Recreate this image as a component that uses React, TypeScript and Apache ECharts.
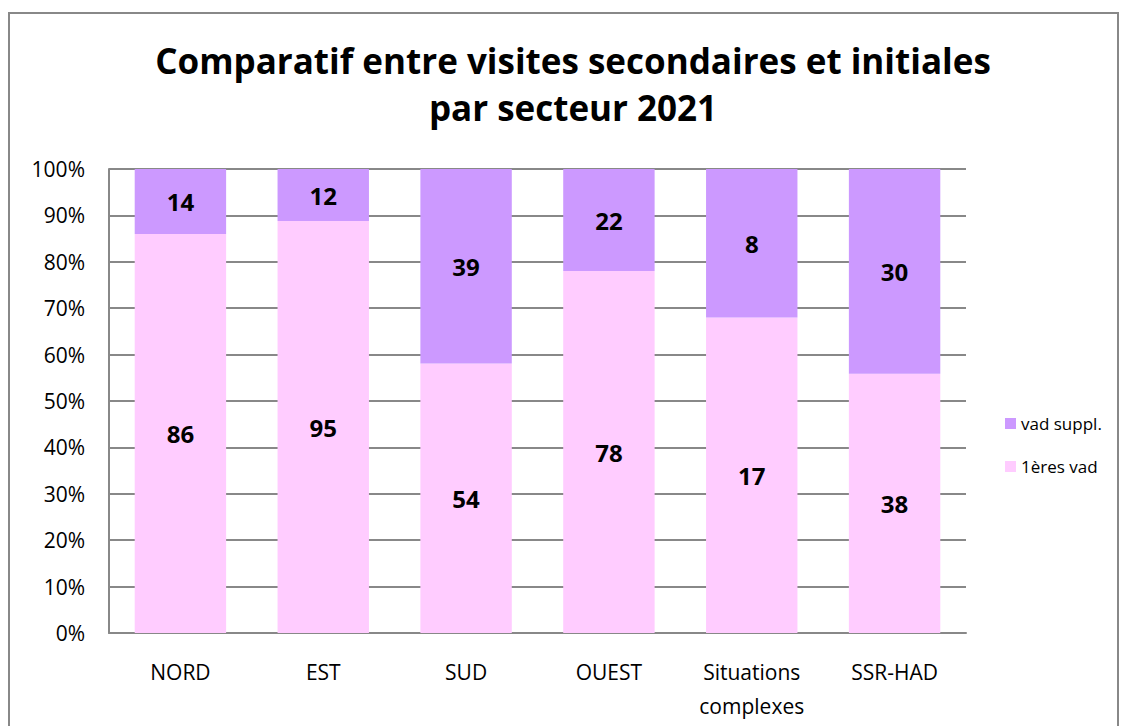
import React, { useEffect, useRef } from "react";
import * as echarts from "echarts";

const categories = ["NORD", "EST", "SUD", "OUEST", "Situations\ncomplexes", "SSR-HAD"];
const premieres = [86, 95, 54, 78, 17, 38];
const supplementaires = [14, 12, 39, 22, 8, 30];
const yTicks = [0, 10, 20, 30, 40, 50, 60, 70, 80, 90, 100];
const titleText = "Comparatif entre visites secondaires et initiales\npar secteur 2021";

const FONT = "'Open Sans', 'Noto Sans', sans-serif";

export default function App() {
  const ref = useRef<HTMLDivElement>(null);
  useEffect(() => {
    if (!ref.current) return;
    const chart = echarts.init(ref.current, null, { renderer: "svg" });
    const totals = premieres.map((v, i) => v + supplementaires[i]);
    const pct = (arr: number[]) =>
      arr.map((v, i) => ({ value: (v / totals[i]) * 100, raw: v }));
    const labelCfg = {
      show: true,
      position: "inside",
      color: "#000",
      fontSize: 24,
      fontWeight: "bold",
      fontFamily: FONT,
      formatter: (p: any) => String(p.data.raw),
    };
    chart.setOption({
      animation: false,
      graphic: [
        {
          type: "rect",
          shape: { x: 9, y: 13, width: 1109, height: 730 },
          style: { fill: "none", stroke: "#888", lineWidth: 2 },
          silent: true,
        },
        {
          type: "text",
          x: 573,
          y: 37,
          style: {
            text: titleText,
            align: "center",
            verticalAlign: "top",
            fontSize: 35,
            fontWeight: "bold",
            fontFamily: FONT,
            fill: "#000",
            lineHeight: 47,
          },
        },
      ],
      legend: {
        orient: "vertical",
        left: 1000,
        top: 410,
        itemWidth: 11,
        itemHeight: 11,
        itemGap: 26,
        icon: "rect",
        data: ["vad suppl.", "1ères vad"],
        textStyle: { fontSize: 17, fontFamily: FONT, color: "#000" },
      },
      grid: { left: 109, top: 169, right: 155, bottom: 93, containLabel: false },
      xAxis: {
        type: "category",
        data: categories,
        axisLine: { lineStyle: { color: "#888", width: 2 } },
        axisTick: { show: false },
        axisLabel: {
          fontSize: 21,
          fontFamily: FONT,
          color: "#000",
          margin: 22,
          lineHeight: 34,
          verticalAlign: "top",
        },
      },
      yAxis: {
        type: "value",
        min: 0,
        max: 100,
        interval: 10,
        axisLine: { show: true, lineStyle: { color: "#888", width: 2 } },
        axisTick: { show: false },
        splitLine: { lineStyle: { color: "#888", width: 2 } },
        axisLabel: {
          formatter: (v: number) => (yTicks.includes(v) ? v + "%" : ""),
          fontSize: 21,
          fontFamily: FONT,
          color: "#000",
          margin: 24,
        },
      },
      series: [
        {
          name: "1ères vad",
          type: "bar",
          stack: "total",
          barWidth: "64%",
          itemStyle: { color: "#FFCCFF" },
          label: labelCfg,
          data: pct(premieres),
        },
        {
          name: "vad suppl.",
          type: "bar",
          stack: "total",
          barWidth: "64%",
          itemStyle: { color: "#CC99FF" },
          label: labelCfg,
          data: pct(supplementaires),
        },
      ],
    });
    return () => chart.dispose();
  }, []);
  return (
    <div
      ref={ref}
      style={{ position: "fixed", left: 0, top: 0, width: 1121, height: 726, background: "#fff" }}
    />
  );
}
